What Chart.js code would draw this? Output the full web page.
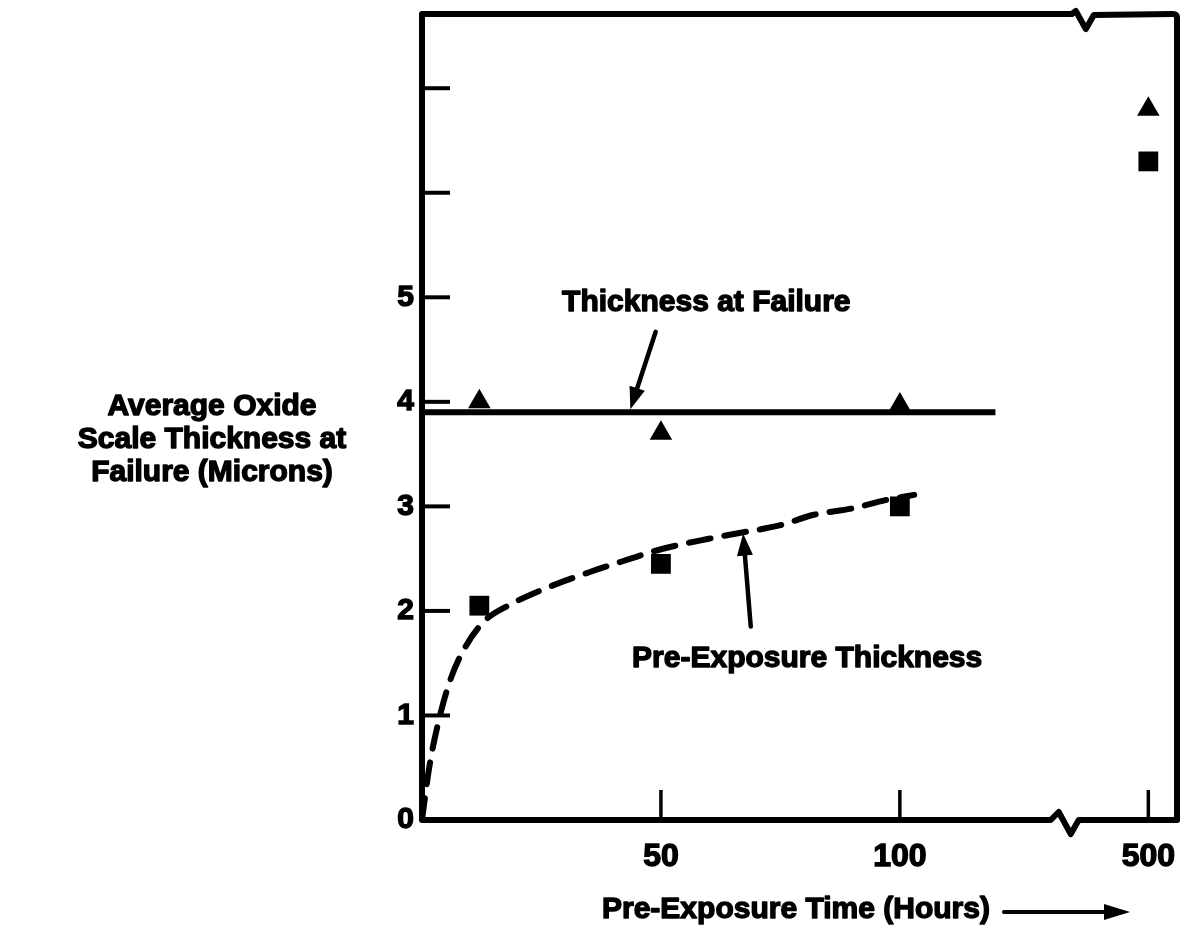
<!DOCTYPE html>
<html>
<head>
<meta charset="utf-8">
<title>Average Oxide Scale Thickness at Failure</title>
<script src="https://cdn.jsdelivr.net/npm/chart.js@4.4.1/dist/chart.umd.min.js"></script>
<style>
 html, body { margin: 0; padding: 0; background: #fff; }
</style>
</head>
<body>
<canvas id="oxideChart" width="1191" height="952"></canvas>
<script>
// Data (hours, microns)
var hours = [12, 50, 100, 500];
var failureThickness = [4.0, 3.7, 3.97, 6.8];
var preExposureThickness = [2.05, 2.45, 3.0, 6.3];

// hand drawn fit through the pre-exposure points
var fitHours = [0, 1.5, 3.5, 6, 9, 13, 18, 25, 35, 43, 50, 60, 67, 75, 82, 90, 97, 103];
var fitThickness = [0, 0.5, 0.95, 1.35, 1.65, 1.9, 2.05, 2.2, 2.37, 2.49, 2.59, 2.69, 2.75, 2.82, 2.92, 2.98, 3.06, 3.11];

// average failure thickness line
var failureLineHours = [0, 120];
var failureLineLevel = [3.9, 3.9];

var yTickValues = [0, 1, 2, 3, 4, 5, 6, 7];
var yTickLabels = ['0', '1', '2', '3', '4', '5', '', ''];
var xTickHours = [50, 100, 500];
var xTickLabels = ['50', '100', '500'];

// broken axis: everything past the break sits at one spot on the axis
var breakAfter = 120;
var brokenPos = 152;
function axisPos(h) { return h > breakAfter ? brokenPos : h; }

var FONT = '"Liberation Sans", Arial, Helvetica, sans-serif';

function pts(xs, ys) {
 return xs.map(function (x, i) { return { x: axisPos(x), y: ys[i] }; });
}

function arrow(ctx, x1, y1, x2, y2, len, half) {
 var ang = Math.atan2(y2 - y1, x2 - x1);
 ctx.beginPath();
 ctx.moveTo(x1, y1);
 ctx.lineTo(x2 - Math.cos(ang) * len * 0.7, y2 - Math.sin(ang) * len * 0.7);
 ctx.stroke();
 ctx.beginPath();
 ctx.moveTo(x2, y2);
 ctx.lineTo(x2 - Math.cos(ang) * len + Math.sin(ang) * half, y2 - Math.sin(ang) * len - Math.cos(ang) * half);
 ctx.lineTo(x2 - Math.cos(ang) * len - Math.sin(ang) * half, y2 - Math.sin(ang) * len + Math.cos(ang) * half);
 ctx.closePath();
 ctx.fill();
}

// heavy text: fill plus a thin outline, like the original lettering
function heavyText(ctx, t, x, y) {
 ctx.fillText(t, x, y);
 ctx.strokeText(t, x, y);
}

// frame, inward ticks, breaks, labels and arrows
var overlay = {
 id: 'overlay',
 afterDraw: function (chart) {
  var ctx = chart.ctx, a = chart.chartArea;
  var xs = chart.scales.x, ys = chart.scales.y;
  ctx.save();
  ctx.strokeStyle = '#000';
  ctx.fillStyle = '#000';
  ctx.lineJoin = 'round';
  ctx.lineCap = 'round';

  // frame with the axis breaks
  var bx = xs.getPixelForValue(134.5), tx = xs.getPixelForValue(138.5);
  ctx.lineWidth = 6;
  ctx.beginPath();
  ctx.moveTo(a.left, a.top);
  ctx.lineTo(a.left, a.bottom);
  ctx.lineTo(bx - 14, a.bottom);
  ctx.lineTo(bx - 6, a.bottom - 8);
  ctx.lineTo(bx + 6, a.bottom + 14);
  ctx.lineTo(bx + 14, a.bottom);
  ctx.lineTo(a.right, a.bottom);
  ctx.lineTo(a.right, a.top + 4);
  ctx.quadraticCurveTo(a.right, a.top, a.right - 4, a.top);
  ctx.lineTo(tx + 10, a.top + 1);
  ctx.lineTo(tx + 2, a.top + 15);
  ctx.lineTo(tx - 8, a.top - 3);
  ctx.lineTo(tx - 12, a.top);
  ctx.closePath();
  ctx.stroke();

  // inward tick marks
  ctx.lineWidth = 4;
  ctx.lineCap = 'butt';
  yTickValues.forEach(function (v) {
   if (v === 0) return;
   var y = ys.getPixelForValue(v);
   ctx.beginPath();
   ctx.moveTo(a.left, y);
   ctx.lineTo(a.left + 28, y);
   ctx.stroke();
  });
  ctx.lineWidth = 3.5;
  xTickHours.forEach(function (h) {
   var x = xs.getPixelForValue(axisPos(h));
   ctx.beginPath();
   ctx.moveTo(x, a.bottom);
   ctx.lineTo(x, a.bottom - 30);
   ctx.stroke();
  });

  // annotations
  ctx.font = 'bold 30px ' + FONT;
  ctx.textAlign = 'center';
  ctx.textBaseline = 'middle';
  ctx.lineWidth = 1.4;
  ctx.lineJoin = 'round';
  heavyText(ctx, 'Thickness at Failure', xs.getPixelForValue(59.5), ys.getPixelForValue(4.95));
  heavyText(ctx, 'Pre-Exposure Thickness', xs.getPixelForValue(80.6), ys.getPixelForValue(1.54));

  ctx.lineWidth = 4.5;
  ctx.lineCap = 'round';
  arrow(ctx, xs.getPixelForValue(48.9), ys.getPixelForValue(4.67),
   xs.getPixelForValue(43.6), ys.getPixelForValue(3.93), 22, 8);
  arrow(ctx, xs.getPixelForValue(68.8), ys.getPixelForValue(1.85),
   xs.getPixelForValue(67.2), ys.getPixelForValue(2.74), 22, 8);

  // y axis title, horizontal on three lines
  ctx.lineWidth = 1.4;
  var yTitle = ['Average Oxide', 'Scale Thickness at', 'Failure (Microns)'];
  yTitle.forEach(function (t, i) {
   heavyText(ctx, t, 212, 407 + i * 33);
  });

  // x axis title with its arrow
  var xt = 'Pre-Exposure Time (Hours)';
  ctx.textAlign = 'left';
  var tw = ctx.measureText(xt).width;
  var tx0 = 602, ty = 910;
  heavyText(ctx, xt, tx0, ty);
  ctx.lineWidth = 4;
  arrow(ctx, tx0 + tw + 14, ty + 2, 1130, ty + 2, 26, 8);

  ctx.restore();
 }
};

new Chart(document.getElementById('oxideChart'), {
 type: 'scatter',
 data: {
  datasets: [
   {
    label: 'Thickness at Failure',
    data: pts(hours, failureThickness),
    pointStyle: 'triangle',
    pointRadius: 13,
    backgroundColor: '#000',
    borderWidth: 0
   },
   {
    label: 'Pre-Exposure Thickness',
    data: pts(hours, preExposureThickness),
    pointStyle: 'rect',
    pointRadius: 14,
    backgroundColor: '#000',
    borderWidth: 0
   },
   {
    label: 'Failure level',
    data: pts(failureLineHours, failureLineLevel),
    showLine: true,
    borderColor: '#000',
    borderWidth: 6,
    pointRadius: 0
   },
   {
    label: 'Pre-exposure fit',
    data: pts(fitHours, fitThickness),
    showLine: true,
    borderColor: '#000',
    borderWidth: 6,
    borderDash: [22, 14],
    borderCapStyle: 'round',
    cubicInterpolationMode: 'monotone',
    pointRadius: 0
   }
  ]
 },
 options: {
  responsive: false,
  animation: false,
  events: [],
  layout: { padding: { left: 0, right: 9, top: 8, bottom: 0 } },
  plugins: {
   legend: { display: false },
   tooltip: { enabled: false }
  },
  scales: {
   x: {
    type: 'linear',
    min: 0,
    max: 158,
    grid: { display: false, drawTicks: false },
    border: { display: false },
    afterBuildTicks: function (scale) {
     scale.ticks = xTickHours.map(function (h) { return { value: axisPos(h) }; });
    },
    afterFit: function (scale) {
     scale.height = 132;
     scale.paddingLeft = 0;
     scale.paddingRight = 0;
    },
    ticks: {
     color: '#000',
     padding: 18,
     maxRotation: 0,
     textStrokeColor: '#000',
     textStrokeWidth: 1.4,
     font: { family: FONT, size: 32, weight: 'bold' },
     callback: function (v) {
      var i = xTickHours.map(axisPos).indexOf(v);
      return i >= 0 ? xTickLabels[i] : '';
     }
    }
   },
   y: {
    type: 'linear',
    min: 0,
    max: 7.71,
    grid: { display: false, drawTicks: false },
    border: { display: false },
    afterBuildTicks: function (scale) {
     scale.ticks = yTickValues.map(function (v) { return { value: v }; });
    },
    afterFit: function (scale) {
     scale.width = 422;
     scale.paddingTop = 0;
     scale.paddingBottom = 0;
    },
    ticks: {
     color: '#000',
     padding: 8,
     textStrokeColor: '#000',
     textStrokeWidth: 1.4,
     font: { family: FONT, size: 30, weight: 'bold' },
     callback: function (v) {
      var i = yTickValues.indexOf(v);
      return i >= 0 ? yTickLabels[i] : '';
     }
    }
   }
  }
 },
 plugins: [overlay]
});
</script>
</body>
</html>
